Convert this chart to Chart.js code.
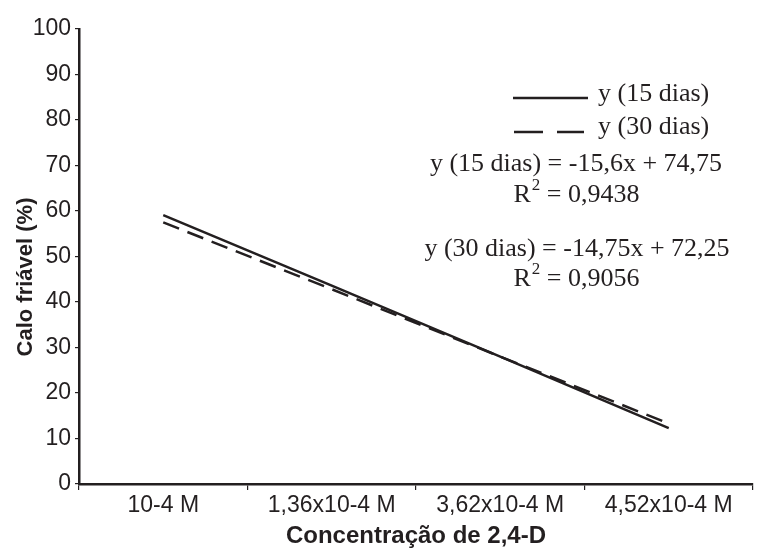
<!DOCTYPE html>
<html>
<head>
<meta charset="utf-8">
<script src="https://cdn.jsdelivr.net/npm/chart.js@4.4.1/dist/chart.umd.min.js"></script>
<style>
  html, body { margin: 0; padding: 0; background: #fff; }
  #wrap { width: 757px; height: 551px; }
</style>
</head>
<body>
<div id="wrap"><canvas id="calloChart"></canvas></div>
<script>
// categorias (concentração de 2,4-D)
const categorias = ['10-4 M', '1,36x10-4 M', '3,62x10-4 M', '4,52x10-4 M'];
const calo15 = [59.1, 43.6, 28.0, 12.3];
const calo30 = [57.5, 42.8, 28.0, 13.3];
const yTicks = [0, 10, 20, 30, 40, 50, 60, 70, 80, 90, 100];

const tituloY = 'Calo friável (%)';
const tituloX = 'Concentração de 2,4-D';
const legendas = ['y (15 dias)', 'y (30 dias)'];
const equacoes = [
    { eq: 'y (15 dias) = -15,6x + 74,75', r2: '0,9438' },
    { eq: 'y (30 dias) = -14,75x + 72,25', r2: '0,9056' }
];

const INK = '#231f20';
const SERIF = '"Liberation Serif", "Times New Roman", serif';
const SANS = '"Liberation Sans", Arial, sans-serif';

// legenda, equações e título do eixo y
const anotacoes = {
    id: 'anotacoes',
    afterDraw(chart) {
        const c = chart.ctx;
        c.save();
        c.fillStyle = INK;
        c.strokeStyle = INK;
        c.lineWidth = 2.5;

        // título do eixo y (um pouco abaixo do centro, como no original)
        c.save();
        c.font = 'bold 22px ' + SANS;
        c.translate(26, 277);
        c.rotate(-Math.PI / 2);
        c.textAlign = 'center';
        c.textBaseline = 'middle';
        c.fillText(tituloY, 0, 0);
        c.restore();

        c.font = '26px ' + SERIF;
        c.textBaseline = 'alphabetic';
        c.textAlign = 'left';

        // legenda
        c.beginPath(); c.moveTo(513, 98); c.lineTo(588, 98); c.stroke();
        c.fillText(legendas[0], 598, 101);
        c.beginPath();
        c.moveTo(514, 132); c.lineTo(543, 132);
        c.moveTo(557, 132); c.lineTo(584, 132);
        c.stroke();
        c.fillText(legendas[1], 598, 134);

        function r2(x, y, val) {
            const big = '26px ' + SERIF;
            const small = '17px ' + SERIF;
            c.font = big;
            const w1 = c.measureText('R').width;
            c.font = small;
            const w2 = c.measureText('2').width;
            c.font = big;
            const rest = ' = ' + val;
            const w3 = c.measureText(rest).width;
            const sx = x - (w1 + w2 + w3) / 2;
            c.textAlign = 'left';
            c.fillText('R', sx, y);
            c.font = small;
            c.fillText('2', sx + w1 + 1, y - 12);
            c.font = big;
            c.fillText(rest, sx + w1 + w2 + 1, y);
        }

        c.textAlign = 'center';
        c.fillText(equacoes[0].eq, 576, 171);
        r2(576, 202, equacoes[0].r2);
        c.textAlign = 'center';
        c.font = '26px ' + SERIF;
        c.fillText(equacoes[1].eq, 577, 256);
        r2(576, 286, equacoes[1].r2);
        c.restore();
    }
};

const ctx = document.getElementById('calloChart').getContext('2d');
Chart.defaults.color = INK;
Chart.defaults.font.family = SANS;

new Chart(ctx, {
    type: 'line',
    data: {
        labels: categorias,
        datasets: [
            { label: legendas[0], data: calo15, borderColor: INK, borderWidth: 2.5, pointRadius: 0, fill: false, tension: 0 },
            { label: legendas[1], data: calo30, borderColor: INK, borderWidth: 2.5, borderDash: [17, 9], pointRadius: 0, fill: false, tension: 0 }
        ]
    },
    options: {
        responsive: true, maintainAspectRatio: false, animation: false,
        layout: { padding: { top: 29, right: 4, left: 0, bottom: 0 } },
        plugins: { legend: { display: false }, tooltip: { enabled: false } },
        scales: {
            x: {
                type: 'category',
                offset: true,
                grid: { display: true, drawOnChartArea: false, offset: true, tickLength: 6, color: INK, lineWidth: 1.2 },
                border: { color: INK, width: 2.5 },
                ticks: { font: { size: 23 }, color: INK, padding: 2, maxRotation: 0 },
                title: { display: true, text: tituloX, font: { size: 24, weight: 'bold' }, color: INK, padding: { top: 8, bottom: 0 } },
                afterFit(scale) { scale.height = 67; }
            },
            y: {
                min: 0, max: 100,
                afterBuildTicks(scale) { scale.ticks = yTicks.map(v => ({ value: v })); },
                grid: { display: true, drawOnChartArea: false, tickLength: 4, color: INK, lineWidth: 1.2 },
                border: { color: INK, width: 2.5 },
                ticks: { font: { size: 23 }, color: INK, padding: 4 },
                afterFit(scale) { scale.width = 79; }
            }
        }
    },
    plugins: [anotacoes]
});
</script>
</body>
</html>
